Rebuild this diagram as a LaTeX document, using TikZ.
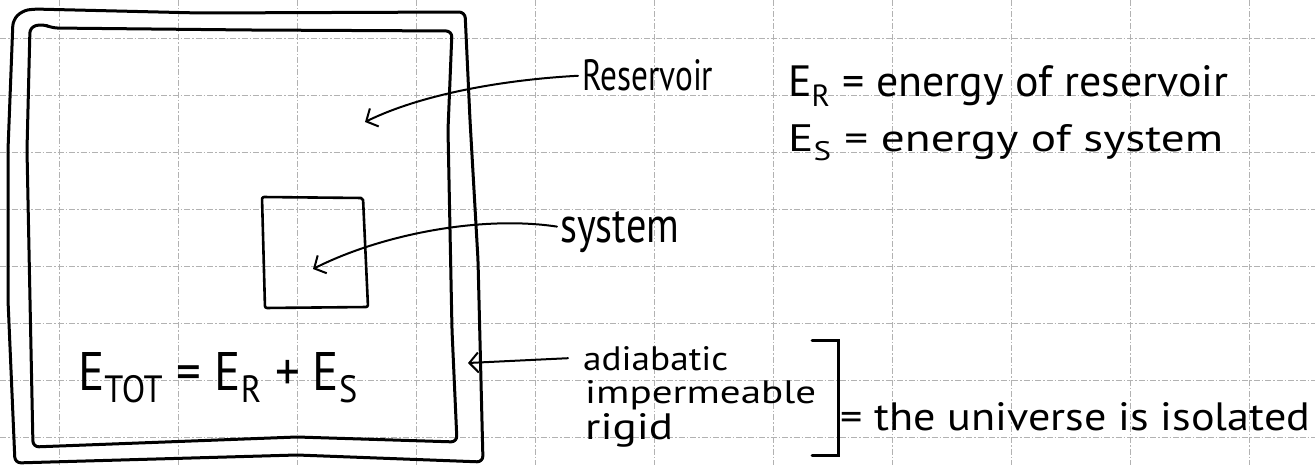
\documentclass[tikz,border=0pt]{standalone}
\usepackage{fontspec}
\setmainfont{PT Sans}
\usetikzlibrary{arrows.meta}

% one unit = one point, y grows downwards
\tikzset{
  ink/.style={line width=3pt, line cap=round, line join=round},
  boxink/.style={ink, rounded corners=6pt},
  leader/.style={line width=2pt, line cap=round,
    -{Straight Barb[length=9pt,width=20pt,line width=2pt]}},
  gridline/.style={black!30, line width=0.7pt,
    dash pattern=on 6pt off 2pt on 1.5pt off 2pt},
  hand/.style={inner sep=0pt, anchor=base west, font=\fontsize{32}{34}\selectfont},
}
% set a text to a given width and height above its baseline
\newcommand{\fitwh}[3]{\resizebox{#1pt}{#2pt}{#3}}

\begin{document}
\begin{tikzpicture}[x=1pt,y=-1pt]
\useasboundingbox (0,0) rectangle (1315,465);
\fill[white] (0,0) rectangle (1315,465);

% graph paper
\foreach \gx in {59,178,...,1249} \draw[gridline] (\gx,0) -- (\gx,465);
\foreach \gy in {38,95,...,437} \draw[gridline] (0,\gy) -- (1315,\gy);

% outer wall of the universe
\draw[boxink] (13,20) -- (22,11) -- (33,9) -- (200,13) -- (465,12)
  -- (470,120) -- (478,260) -- (483,462) -- (297,455) -- (15,463)
  -- (8,300) -- (8,150) -- cycle;
% inner wall
\draw[boxink] (30,27) -- (43,24) -- (52,28) -- (250,30) -- (452,31)
  -- (448,130) -- (452,330) -- (457,442) -- (297,437) -- (33,447)
  -- (30,300) -- (27,150) -- cycle;
% the system
\draw[ink, line width=2.6pt, rounded corners=2pt]
  (262,197) -- (363,198) -- (368,307) -- (265,308) -- cycle;

% arrow targets
\coordinate (resTip) at (365,122);
\coordinate (sysTip) at (313,269);
\coordinate (wallTip) at (468,363);

% labels
\node[hand] (res) at (582,91) {\fitwh{131}{31}{Reservoir}};
\node[hand] (erdef) at (788,97) {\fitwh{440}{31}{E\textsubscript{R} = energy of reservoir}};
\node[hand] (esdef) at (788,152) {\fitwh{435}{27}{E\textsubscript{S} = energy of system}};
\node[hand] (sys) at (560,243) {\fitwh{119}{31}{system}};
\node[hand] (etot) at (78,390) {\fitwh{280}{38}{E\textsubscript{TOT} = E\textsubscript{R} + E\textsubscript{S}}};
\node[hand] (adia) at (583,370) {\fitwh{145}{24}{adiabatic}};
\node[hand] (imperm) at (585,403) {\fitwh{231}{23}{impermeable}};
\node[hand] (rigid) at (585,439) {\fitwh{88}{26}{rigid}};
\node[hand] (univ) at (840,430) {\fitwh{470}{28}{= the universe is isolated}};

% leaders
\draw[leader] ([xshift=-4pt]res.west) .. controls (500,80) and (420,95) .. (resTip);
\draw[leader] ([xshift=-3pt,yshift=6pt]sys.west) .. controls (480,215) and (380,235) .. (sysTip);
\draw[leader] ([xshift=-15pt]adia.west) -- (wallTip);

% bracket grouping the three wall properties
\draw[ink, line join=miter] (812,340) -- (838,340) -- (838,455) -- (812,455);
\end{tikzpicture}
\end{document}
